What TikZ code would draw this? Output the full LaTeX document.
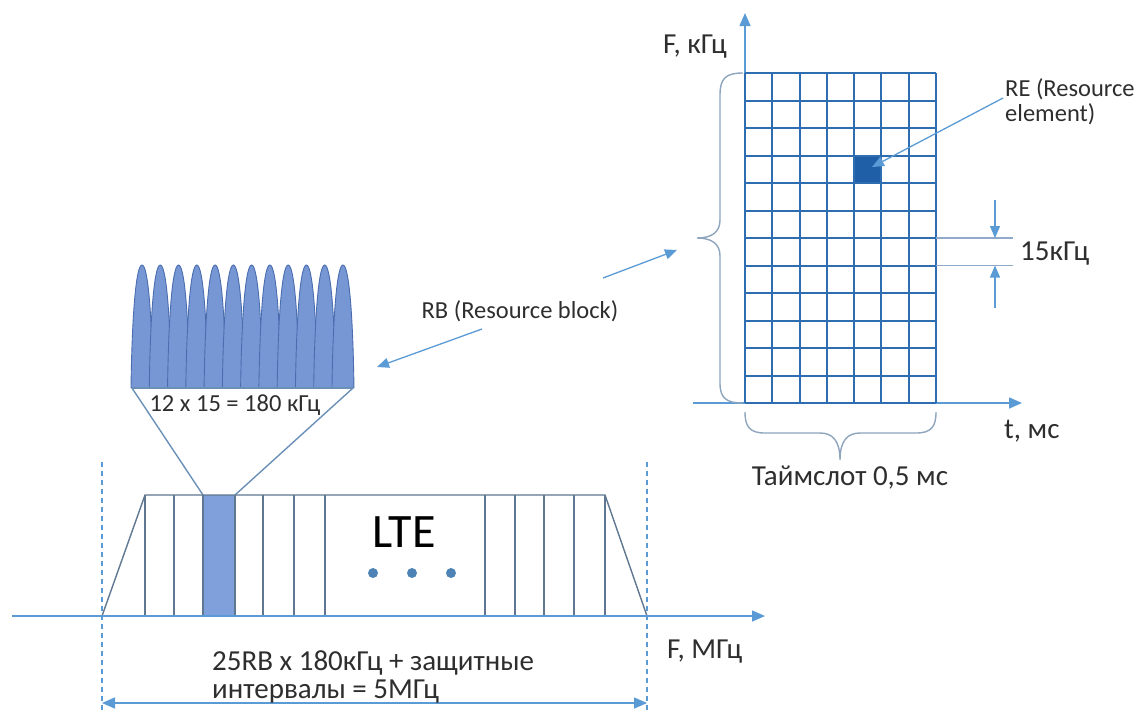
\documentclass[tikz,border=0pt]{standalone}
\usepackage{fontspec}
\setmainfont{Carlito}
\usetikzlibrary{arrows.meta,calc}
\definecolor{axisblue}{HTML}{5B9BD5}
\definecolor{gridblue}{HTML}{2E6DB0}
\definecolor{reblue}{HTML}{1F5FA8}
\definecolor{rbfill}{HTML}{7FA0DA}
\definecolor{lobefill}{HTML}{7797D4}
\definecolor{lobeedge}{HTML}{4A6DB0}
\definecolor{specline}{HTML}{5F7790}
\definecolor{trapline}{HTML}{6A90B8}
\definecolor{bracecol}{HTML}{8EA5BD}
\definecolor{dimline}{HTML}{8FAACB}
\definecolor{txt}{HTML}{2E2E2E}
\begin{document}
\begin{tikzpicture}[x=1pt,y=-1pt,
  axisline/.style={draw=axisblue,line width=1.6pt,-{Triangle[length=13pt,width=11pt]}},
  dblarrow/.style={draw=axisblue,line width=1.6pt,{Triangle[length=13pt,width=11pt]}-{Triangle[length=13pt,width=11pt]}},
  thinarrow/.style={draw=axisblue,line width=1.3pt,-{Triangle[length=12pt,width=10pt]}},
  dashedline/.style={draw=axisblue,line width=1.2pt,dash pattern=on 5pt off 4pt},
  specl/.style={draw=specline,line width=1.4pt},
  trapl/.style={draw=trapline,line width=1.4pt},
  gridl/.style={draw=gridblue,line width=2pt},
  bracel/.style={draw=bracecol,line width=1.4pt},
  lobe/.style={fill=lobefill,draw=lobeedge,line width=0.9pt},
  lbl/.style={text=txt,inner sep=0pt,font=\fontsize{29}{29}\selectfont},
  smalllbl/.style={text=txt,inner sep=0pt,font=\fontsize{24.5}{25}\selectfont},
]
\useasboundingbox (0,0) rectangle (1140,713);

% ---------- subcarrier lobes ----------
\foreach \i [evaluate=\i as \c using 142+\i*18.27] in {0,...,11} {
  \path[lobe] (\c-11,388) .. controls (\c-10,315) and (\c-6,265) .. (\c,265)
     .. controls (\c+6,265) and (\c+10,315) .. (\c+11,388) -- cycle;
}
\coordinate (lobL) at (132,388);
\coordinate (lobR) at (353,388);
\coordinate (rbTL) at (203,495);
\coordinate (rbTR) at (235,495);
\draw[trapl] (lobL) -- (lobR);
\draw[trapl] (lobL) -- (rbTL);
\draw[trapl] (lobR) -- (rbTR);
\node[smalllbl] (sub) at (235,405) {12 x 15 = 180 кГц};

% ---------- LTE spectrum ----------
\fill[rbfill] (203,495) rectangle (235,616);
\draw[specl] (102,616) -- (145,495) -- (605,495) -- (647,616);
\foreach \x in {145,174,203,235,263,294,325,485,515,544,574,605}
  \draw[specl] (\x,495) -- (\x,616);
\node[text=black,inner sep=0pt,font=\fontsize{48}{50}\selectfont] (lte) at (404,532) {LTE};
\foreach \x in {373,412,451}
  \fill[axisblue!85!black] (\x,573) circle (5pt);

\draw[dashedline] (102,462) -- (102,713);
\draw[dashedline] (647,462) -- (647,713);
\coordinate (fa0) at (12,616);
\coordinate (fa1) at (765,616);
\draw[axisline] (fa0) -- (fa1);
\node[lbl,anchor=west] (fmhz) at (667,652) {F, МГц};

\coordinate (bw0) at (102,703);
\coordinate (bw1) at (647,703);
\draw[dblarrow] (bw0) -- (bw1);
\node[lbl,anchor=west] (bw1t) at (212,663) {25RB x 180кГц + защитные};
\node[lbl,anchor=west] (bw2t) at (212,692) {интервалы = 5МГц};

% ---------- RB arrow ----------
\node[smalllbl] (rb) at (520,311) {RB (Resource block)};
\coordinate (rbA) at (377,367);
\coordinate (rbAg) at (482,329);
\coordinate (rbB) at (677,250);
\coordinate (rbBg) at (603,278);
\draw[thinarrow] (rbAg) -- (rbA);
\draw[thinarrow] (rbBg) -- (rbB);

% ---------- time-frequency grid ----------
\coordinate (va0) at (745,403);
\coordinate (va1) at (745,13);
\coordinate (ta0) at (693,403);
\coordinate (ta1) at (1022,403);
\draw[axisline] (va0) -- (va1);
\draw[axisline] (ta0) -- (ta1);
\fill[reblue] (854.2,155.5) rectangle (881.4,183);
\foreach \j in {0,...,12}
  \draw[gridl] (745,73+\j*27.5) -- (936,73+\j*27.5);
\foreach \i in {0,...,7}
  \draw[gridl] (745+\i*27.29,73) -- (745+\i*27.29,403);

\node[lbl] (fkhz) at (695,47) {F, кГц};
\node[lbl,anchor=west] (tms) at (1004,431) {t, мс};

% left brace
\draw[bracel] (743,73) .. controls (726,73) and (720,78) .. (720,95) -- (720,220)
  .. controls (720,232) and (712,238) .. (697,238)
  .. controls (712,238) and (720,244) .. (720,256) -- (720,383)
  .. controls (720,398) and (726,403) .. (743,403);
% bottom brace
\draw[bracel] (745,412) .. controls (745,427) and (750,433) .. (765,433) -- (820,433)
  .. controls (832,433) and (840,440) .. (840,460)
  .. controls (840,440) and (848,433) .. (860,433) -- (916,433)
  .. controls (931,433) and (936,427) .. (936,412);
\node[lbl] (slot) at (850,478) {Таймслот 0,5 мс};

% RE label
\node[smalllbl,align=left,anchor=north west] (re) at (1005,78) {RE (Resource\\element)};
\coordinate (reA) at (1003,98);
\coordinate (reB) at (872,167);
\draw[thinarrow] (reA) -- (reB);

% 15 kHz dimension
\coordinate (d1) at (995,200);
\coordinate (d1t) at (995,238);
\coordinate (d2) at (995,308);
\coordinate (d2t) at (995,265.5);
\draw[draw=dimline,line width=1.3pt] (936,238) -- (1013,238);
\draw[draw=dimline,line width=1.3pt] (936,265.5) -- (1013,265.5);
\draw[thinarrow] (d1) -- (d1t);
\draw[thinarrow] (d2) -- (d2t);
\node[lbl,anchor=west] (khz15) at (1020,254) {15кГц};
\end{tikzpicture}
\end{document}
